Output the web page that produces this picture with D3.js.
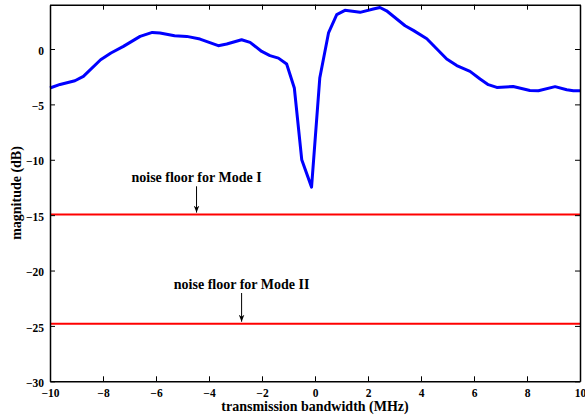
<!DOCTYPE html>
<html><head><meta charset="utf-8">
<script src="https://cdn.jsdelivr.net/npm/d3@7"></script>
<style>body{margin:0;background:#fff}svg{display:block}text{font-family:"Liberation Serif","Times New Roman",serif;font-weight:bold}</style>
</head><body><svg id="c" width="585" height="418"></svg>
<script>
const freq = [-10,-9.62,-9.06,-8.74,-8.09,-7.7,-7.23,-6.6,-6.14,-5.85,-5.3,-4.84,-4.34,-3.65,-3.33,-2.77,-2.45,-2.01,-1.7,-1.38,-1.07,-0.78,-0.5,-0.13,0.18,0.51,0.82,1.13,1.7,2.2,2.45,2.7,3.4,3.71,4.22,4.97,5.35,5.85,6.23,6.54,6.86,7.48,8.11,8.43,9.06,9.5,9.75,10];
const magnitude = [-3.52,-3.2,-2.87,-2.47,-0.97,-0.36,0.24,1.14,1.5,1.45,1.2,1.14,0.9,0.3,0.45,0.84,0.6,-0.22,-0.6,-0.82,-1.36,-3.52,-10,-12.47,-2.62,1.45,3.1,3.49,3.31,3.61,3.75,3.45,2.1,1.68,0.93,-0.9,-1.5,-2.02,-2.71,-3.22,-3.47,-3.38,-3.74,-3.77,-3.4,-3.68,-3.77,-3.77];
const noiseFloors = [-14.95, -24.8];
const noiseLabels = ["noise floor for Mode I", "noise floor for Mode II"];
const noiseArrowX = [-4.47, -2.77];
const xTicks = [-10,-8,-6,-4,-2,0,2,4,6,8,10];
const yTicks = [-30,-25,-20,-15,-10,-5,0];
const xLabel = "transmission bandwidth (MHz)";
const yLabel = "magnitude (dB)";

const svg = d3.select("#c");
const L=50, R=580, T=4.7, B=381.3;
const x = d3.scaleLinear().domain([-10,10]).range([L,R]);
const y = d3.scaleLinear().domain([-30,4]).range([B,T]);
const fmt = d => d<0 ? "\u2212"+Math.abs(d) : String(d);

// lines
svg.append("path").datum(freq.map((f,i)=>[f,magnitude[i]]))
  .attr("d", d3.line().x(d=>x(d[0])).y(d=>y(d[1])))
  .attr("fill","none").attr("stroke","#0000ff").attr("stroke-width",3).attr("stroke-linejoin","round");
noiseFloors.forEach(v=>{
  svg.append("line").attr("x1",x(-10)).attr("x2",x(10)).attr("y1",y(v)).attr("y2",y(v))
    .attr("stroke","#ff0000").attr("stroke-width",2);
});

// axes
const gB = svg.append("g").attr("transform",`translate(0,${B})`)
  .call(d3.axisBottom(x).tickValues(xTicks).tickFormat(fmt).tickSizeInner(-5).tickSizeOuter(0));
const gT = svg.append("g").attr("transform",`translate(0,${T})`)
  .call(d3.axisTop(x).tickValues(xTicks).tickFormat("").tickSizeInner(-5).tickSizeOuter(0));
const gL = svg.append("g").attr("transform",`translate(${L},0)`)
  .call(d3.axisLeft(y).tickValues(yTicks).tickFormat(fmt).tickSizeInner(-5).tickSizeOuter(0).tickPadding(6));
const gR = svg.append("g").attr("transform",`translate(${R},0)`)
  .call(d3.axisRight(y).tickValues(yTicks).tickFormat("").tickSizeInner(-5).tickSizeOuter(0));
[gB,gT,gL,gR].forEach(g=>{
  g.select(".domain").attr("stroke","#000").attr("stroke-width",1.5);
  g.selectAll(".tick line").attr("stroke","#000").attr("stroke-width",1);
  g.selectAll("text").attr("font-size",11.5).attr("fill","#000").attr("font-family","Liberation Serif");
});
gB.selectAll("text").attr("y",15.5).attr("dy",0);
gL.selectAll("text").attr("dy","0.45em");

// annotations
svg.append("defs").append("marker").attr("id","ah").attr("viewBox","0 0 10 10")
  .attr("refX",10).attr("refY",5).attr("markerWidth",7).attr("markerHeight",7).attr("orient","auto")
  .append("path").attr("d","M0,1 L10,5 L0,9 L3,5 Z").attr("fill","#000");
const labelOffsets=[[28.3,32.7],[30.7,34.7]];
noiseFloors.forEach((v,i)=>{
  const ax=x(noiseArrowX[i]);
  svg.append("text").attr("x",ax).attr("y",y(v)-labelOffsets[i][1]).attr("text-anchor","middle")
    .attr("font-size",14).text(noiseLabels[i]);
  svg.append("line").attr("x1",ax).attr("x2",ax).attr("y1",y(v)-labelOffsets[i][0]).attr("y2",y(v)-2)
    .attr("stroke","#000").attr("stroke-width",1).attr("marker-end","url(#ah)");
});

svg.append("text").attr("x",(L+R)/2).attr("y",410.5).attr("text-anchor","middle").attr("font-size",14).text(xLabel);
svg.append("text").attr("transform",`translate(21,${(T+B)/2+0}) rotate(-90)`).attr("text-anchor","middle").attr("font-size",14).text(yLabel);
</script></body></html>
